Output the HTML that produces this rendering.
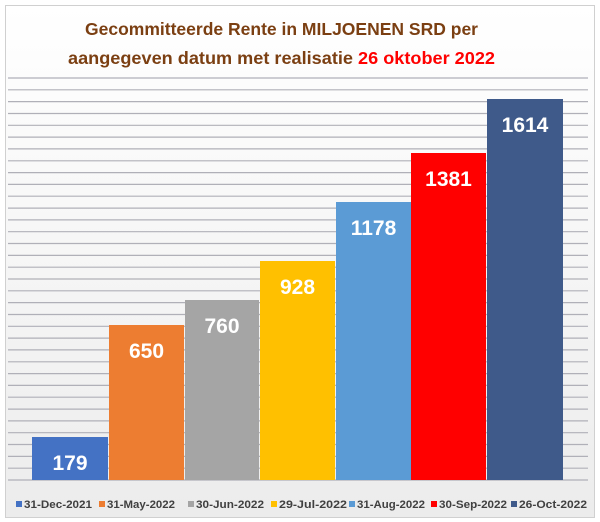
<!DOCTYPE html>
<html><head><meta charset="utf-8"><style>
html,body{margin:0;padding:0;background:#fff;}
svg{display:block;font-family:"Liberation Sans",sans-serif;}
</style></head><body>
<svg width="600" height="522" viewBox="0 0 600 522" xmlns="http://www.w3.org/2000/svg">
<defs>
<linearGradient id="bg" x1="0" y1="0" x2="0" y2="1">
<stop offset="0" stop-color="#ffffff"/><stop offset="1" stop-color="#ececec"/>
</linearGradient>
</defs>
<rect x="5.5" y="5.5" width="589" height="512" fill="url(#bg)" stroke="#d0d0d0"/>
<text x="85" y="35" font-size="17.5" font-weight="bold" fill="#7b3f12" textLength="393" lengthAdjust="spacingAndGlyphs">Gecommitteerde Rente in MILJOENEN SRD per</text>
<text x="68" y="64" font-size="17.5" font-weight="bold" fill="#7b3f12" textLength="427" lengthAdjust="spacingAndGlyphs">aangegeven datum met realisatie <tspan fill="#ff0000">26 oktober 2022</tspan></text>
<g stroke="#b0b0b8" stroke-width="1.2" id="grid"></g>
<g id="bars"></g>
<g font-size="11" font-weight="bold" fill="#404040" id="leg"></g>
</svg>
<script>
var ns="http://www.w3.org/2000/svg";
function el(p,t,a,txt){var e=document.createElementNS(ns,t);for(var k in a)e.setAttribute(k,a[k]);if(txt)e.textContent=txt;p.appendChild(e);return e;}
var g=document.getElementById('grid');
for(var i=0;i<=34;i++){var y=78+i*(402/34);el(g,'line',{x1:8,x2:588,y1:y.toFixed(1),y2:y.toFixed(1)});}
var b=document.getElementById('bars');
var data=[[32,108,437,'179','#4472c4'],[109,184,325,'650','#ed7d31'],[185,259,300,'760','#a5a5a5'],[260,335,261,'928','#ffc000'],[336,411,202,'1178','#5b9bd5'],[411,486,153,'1381','#ff0000'],[487,563,99,'1614','#3f5a8a']];
data.forEach(function(d){
 el(b,'rect',{x:d[0],y:d[2],width:d[1]-d[0],height:480-d[2],fill:d[4]});
 el(b,'text',{x:(d[0]+d[1])/2,y:d[2]+33,'text-anchor':'middle','font-size':'21','font-weight':'bold',fill:'#fff'},d[3]);
});
var l=document.getElementById('leg');
var labs=['31-Dec-2021','31-May-2022','30-Jun-2022','29-Jul-2022','31-Aug-2022','30-Sep-2022','26-Oct-2022'];
var xs=[16,99,188,271,349,431,511];
labs.forEach(function(t,i){
 el(l,'rect',{x:xs[i],y:501,width:6,height:6,fill:data[i][4]});
 el(l,'text',{x:xs[i]+8,y:508,textLength:t.length>11?70:68,lengthAdjust:'spacingAndGlyphs'},t);
});
</script>
</body></html>
